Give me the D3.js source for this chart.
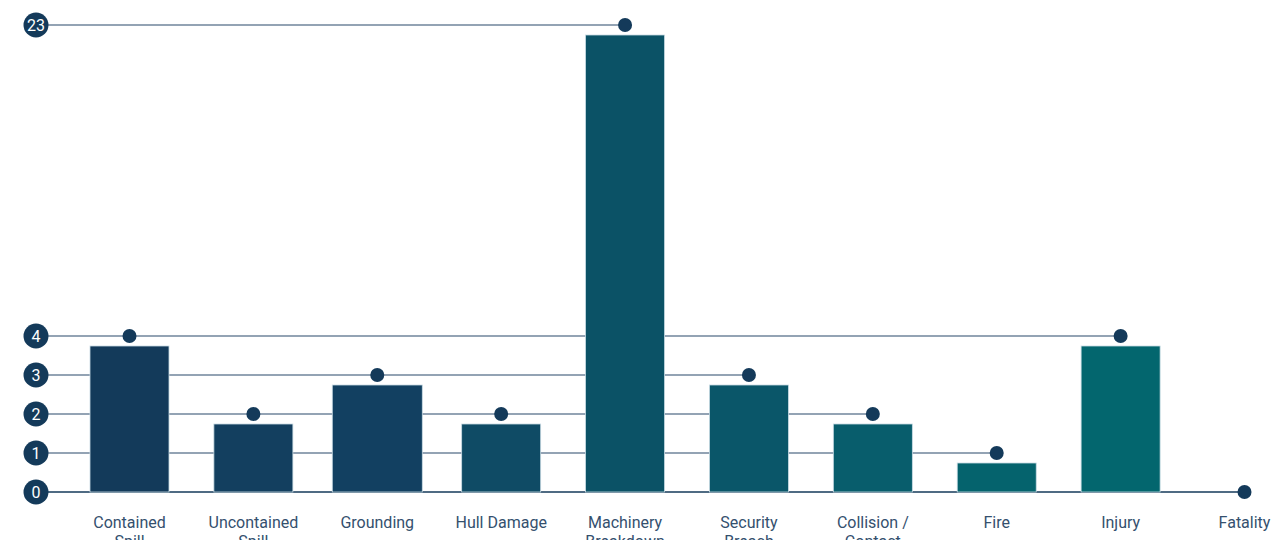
<!DOCTYPE html>
<html><head><meta charset="utf-8">
<script src="https://cdn.jsdelivr.net/npm/d3@7"></script>
<style>body{margin:0;background:#fff;}svg{display:block;font-family:Roboto,sans-serif;}</style>
</head><body><svg id="c" width="1272" height="540"></svg>
<script>
const categories = ["Contained Spill","Uncontained Spill","Grounding","Hull Damage","Machinery Breakdown","Security Breach","Collision / Contact","Fire","Injury","Fatality"];
const labelLines = [["Contained","Spill"],["Uncontained","Spill"],["Grounding"],["Hull Damage"],["Machinery","Breakdown"],["Security","Breach"],["Collision /","Contact"],["Fire"],["Injury"],["Fatality"]];
const values = [4,2,3,2,23,3,2,1,4,0];
const tickValues = [0,1,2,3,4,23];
const barColors = ["#133a5a","#133f5f","#124061","#0f4b65","#0b5266","#0a5669","#085d6c","#05636d","#03666e","#03666e"];

const svg = d3.select("#c");
const x = d3.scalePoint().domain(categories).range([129.5,1244.5]);
const y = d3.scaleLinear().domain([0,4,23]).range([492,336,25]);
const barW = 79, barOffset = 10, axisX = 36;
const wideBar = "Grounding", wideBarW = 90;
const bw = c => c === wideBar ? wideBarW : barW;

const grid = svg.append("g");
tickValues.forEach(t => {
  const idx = values.map((v,i)=>v===t?i:-1).filter(i=>i>=0);
  const xEnd = d3.max(idx, i => x(categories[i]));
  grid.append("line").attr("x1",axisX).attr("x2",xEnd).attr("y1",y(t)).attr("y2",y(t))
    .attr("stroke", t===0 ? "#143a5a" : "#6f859b").attr("stroke-width",1.5);
});

svg.append("g").selectAll("rect").data(values).join("rect")
  .attr("x",(d,i)=>x(categories[i])-bw(categories[i])/2)
  .attr("width",(d,i)=>bw(categories[i]))
  .attr("y",d=>Math.min(y(d)+barOffset,y(0)))
  .attr("height",d=>Math.max(0,y(0)-(y(d)+barOffset)))
  .attr("fill",(d,i)=>barColors[i])
  .attr("stroke","#c9dbe4").attr("stroke-width",0.8);

svg.append("g").selectAll("circle").data(values).join("circle")
  .attr("cx",(d,i)=>x(categories[i])).attr("cy",d=>y(d)).attr("r",7).attr("fill","#143a5a");

const tk = svg.append("g").selectAll("g").data(tickValues).join("g")
  .attr("transform",d=>`translate(${axisX},${y(d)})`);
tk.append("circle").attr("r",12.5).attr("fill","#143a5a");
tk.append("text").text(d=>d).attr("text-anchor","middle").attr("dy","0.36em")
  .attr("fill","#fff").attr("font-size",16);

const xl = svg.append("g").selectAll("text").data(labelLines).join("text")
  .attr("x",(d,i)=>x(categories[i])).attr("y",528).attr("text-anchor","middle")
  .attr("fill","#34506e").attr("font-size",16);
xl.selectAll("tspan").data(d=>d).join("tspan")
  .attr("x",function(){return this.parentNode.getAttribute("x");})
  .attr("dy",(d,i)=>i===0?0:19).text(d=>d);
</script></body></html>
